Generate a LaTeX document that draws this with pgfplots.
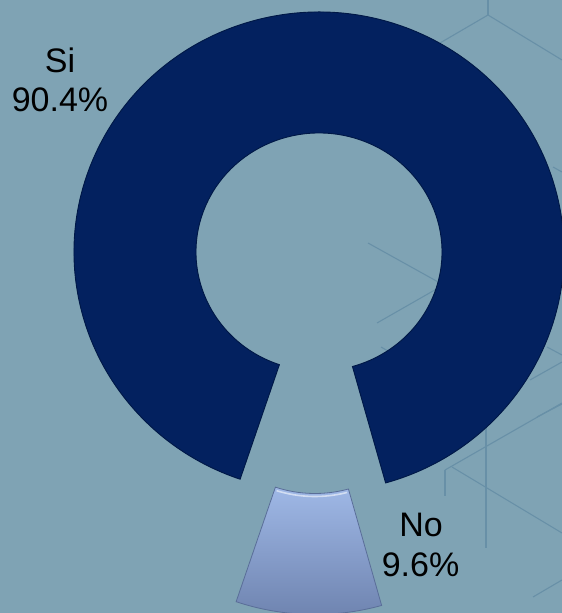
\documentclass[border=0pt]{standalone}
\usepackage{pgfplots}
\pgfplotsset{compat=1.18}
\usepackage{pgfplotstable}
\usepackage{fontspec}
\setmainfont{Liberation Sans}
\definecolor{bg}{HTML}{7FA3B4}
\definecolor{hexline}{HTML}{6890A7}
\definecolor{siblue}{HTML}{03215F}
\definecolor{siedge}{HTML}{001846}
\definecolor{notop}{HTML}{9FB8E6}
\definecolor{nobot}{HTML}{6E83AF}
\definecolor{noedge}{HTML}{5A6E98}
\pgfplotstableread{
label value
Si 90.4
No 9.6
}\piedata
\begin{document}
\begin{tikzpicture}
\path[use as bounding box] (0,0) rectangle (562pt,613pt);
\pgfplotstablegetelem{0}{value}\of\piedata \let\vsi\pgfplotsretval
\pgfplotstablegetelem{1}{value}\of\piedata \let\vno\pgfplotsretval
\def\Rx{245}\def\Ry{240}\def\rx{123}\def\ry{119}
\def\cx{319}\def\cy{-252}
\def\ncx{315}\def\ncy{-374.5}
\def\rot{-1.5}
\pgfmathsetmacro\sa{-90+\rot+1.8*\vno}
\pgfmathsetmacro\ea{\sa+3.6*\vsi}
\pgfmathsetmacro\nsa{-90+\rot-1.8*\vno}
\pgfmathsetmacro\nea{-90+\rot+1.8*\vno}
% Si corner points
\pgfmathsetmacro\sox{\cx+\Rx*cos(\sa)}\pgfmathsetmacro\soy{\cy+\Ry*sin(\sa)}
\pgfmathsetmacro\eix{\cx+\rx*cos(\ea)}\pgfmathsetmacro\eiy{\cy+\ry*sin(\ea)}
% No corner points
\pgfmathsetmacro\nox{\ncx+\Rx*cos(\nsa)}\pgfmathsetmacro\noy{\ncy+\Ry*sin(\nsa)}
\pgfmathsetmacro\nix{\ncx+\rx*cos(\nea)}\pgfmathsetmacro\niy{\ncy+\ry*sin(\nea)}
\pgfmathsetmacro\nhx{\ncx+(\rx+3)*cos(\nea-1)}\pgfmathsetmacro\nhy{\ncy+(\ry+3)*sin(\nea-1)}
\begin{axis}[at={(0,0)},anchor=south west,x=1pt,y=1pt,
  xmin=0,xmax=562,ymin=-613,ymax=0,hide axis,scale only axis,clip=true]
\fill[bg] (axis cs:0,-613) rectangle (axis cs:562,0);
% faint hexagon background lines
\begin{scope}[hexline, line width=1.1pt]
\draw (axis cs:488,0) -- (axis cs:488,-15);
\draw (axis cs:488,-15) -- (axis cs:440,-43);
\draw (axis cs:488,-15) -- (axis cs:562,-60);
\draw (axis cs:553,-167) -- (axis cs:562,-172);
\draw (axis cs:368,-243) -- (axis cs:440,-283);
\draw (axis cs:377,-323) -- (axis cs:440,-287);
\draw (axis cs:381,-347) -- (axis cs:400,-358);
\draw (axis cs:547,-347) -- (axis cs:562,-355);
\draw (axis cs:530,-380) -- (axis cs:562,-362);
\draw (axis cs:537,-417) -- (axis cs:562,-404);
\draw (axis cs:486,-400) -- (axis cs:486,-548);
\draw (axis cs:445,-470) -- (axis cs:562,-403);
\draw (axis cs:445,-470) -- (axis cs:445,-496);
\draw (axis cs:452,-467) -- (axis cs:562,-533);
\draw (axis cs:533,-597) -- (axis cs:562,-580);
\end{scope}
% Si ring segment
\fill[siblue, draw=siedge, line width=0.9pt]
  (axis cs:\sox,\soy) arc[start angle=\sa,end angle=\ea,x radius=\Rx,y radius=\Ry]
  -- (axis cs:\eix,\eiy) arc[start angle=\ea,end angle=\sa,x radius=\rx,y radius=\ry] -- cycle;
% No segment (exploded)
\shade[top color=notop, bottom color=nobot, draw=noedge, line width=0.8pt]
  (axis cs:\nox,\noy) arc[start angle=\nsa,end angle=\nea,x radius=\Rx,y radius=\Ry]
  -- (axis cs:\nix,\niy) arc[start angle=\nea,end angle=\nsa,x radius=\rx,y radius=\ry] -- cycle;
\draw[white, opacity=0.55, line width=1.6pt]
  (axis cs:\nhx,\nhy) arc[start angle=\nea-1,end angle=\nsa+1,x radius=\rx+3,y radius=\ry+3];
% labels
\node[anchor=base, font=\fontsize{34}{40}\selectfont] at (axis cs:60,-73) {Si};
\node[anchor=base, font=\fontsize{34}{40}\selectfont] at (axis cs:60,-112) {90.4\%};
\node[anchor=base, font=\fontsize{34}{40}\selectfont] at (axis cs:421,-537) {No};
\node[anchor=base, font=\fontsize{34}{40}\selectfont] at (axis cs:420.5,-577) {9.6\%};
\end{axis}
\end{tikzpicture}
\end{document}
